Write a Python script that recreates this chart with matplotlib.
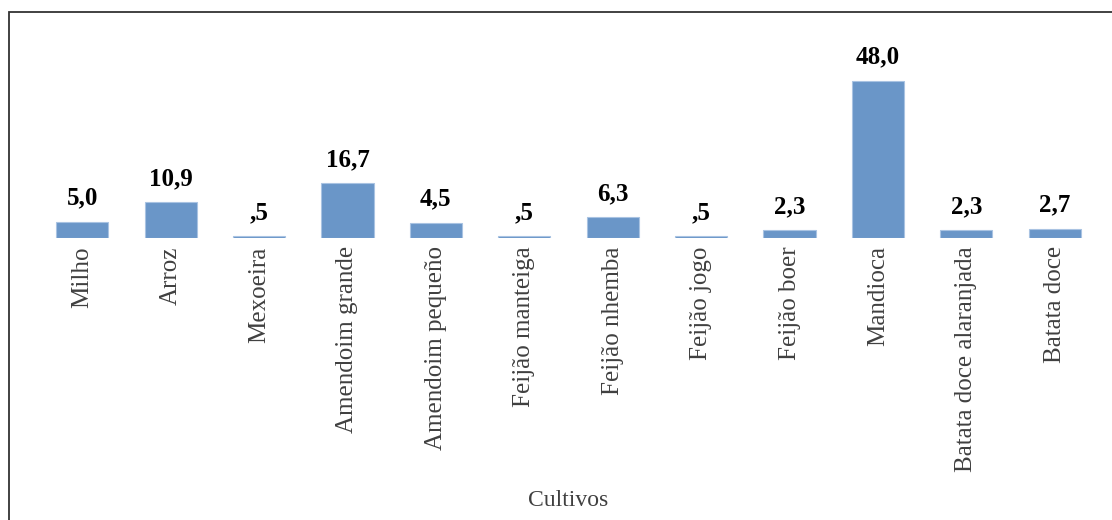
import matplotlib
matplotlib.use("Agg")
import matplotlib.pyplot as plt
from matplotlib.patches import Rectangle

categories = ["Milho", "Arroz", "Mexoeira", "Amendoim grande", "Amendoim pequeño",
              "Feijão manteiga", "Feijão nhemba", "Feijão jogo", "Feijão boer",
              "Mandioca", "Batata doce alaranjada", "Batata doce"]
values = [5.0, 10.9, 0.5, 16.7, 4.5, 0.5, 6.3, 0.5, 2.3, 48.0, 2.3, 2.7]
value_labels = ["5,0", "10,9", ",5", "16,7", "4,5", ",5", "6,3", ",5", "2,3", "48,0", "2,3", "2,7"]

W, H = 1112, 520
fig = plt.figure(figsize=(W / 100, H / 100), dpi=100)
plt.rcParams['font.family'] = ['Liberation Serif', 'DejaVu Serif']

# axes: x from 38 to 1099 px, baseline y=238 px, 48 -> y=81
ax_left, ax_right = 38, 1099
y0_px = 238
px_per_unit = (238 - 81) / 48.0
ytop_px = 20
ymax = (y0_px - ytop_px) / px_per_unit
ax = fig.add_axes([ax_left / W, 1 - y0_px / H, (ax_right - ax_left) / W, (y0_px - ytop_px) / H])

x = range(len(categories))
ax.bar(x, values, width=0.59, color="#6a96c8", edgecolor="#a9c3e2", linewidth=0.8)
for xi, v, lab in zip(x, values, value_labels):
    ax.annotate(lab, (xi, v), xytext=(0, 9), textcoords="offset points",
                ha="center", va="bottom", fontsize=18, fontweight="bold", color="black")

ax.set_xlim(-0.5, len(categories) - 0.5)
ax.set_ylim(0, ymax)
ax.set_yticks([])
ax.set_xticks(list(x))
ax.set_xticklabels(categories, rotation=90, fontsize=18, color="#404040", va="top", ha="center")
ax.tick_params(axis="x", length=0, pad=6)
for s in ax.spines.values():
    s.set_visible(False)

fig.text(568 / W, 1 - 501 / H, "Cultivos", ha="center", va="center", fontsize=17, color="#404040")

fig.patches.append(Rectangle((8.5 / W, -0.1), 1.2, 1 - 12 / H + 0.1, transform=fig.transFigure,
                             fill=False, edgecolor="#333333", linewidth=1.3))

fig.savefig("out.png", dpi=100)
